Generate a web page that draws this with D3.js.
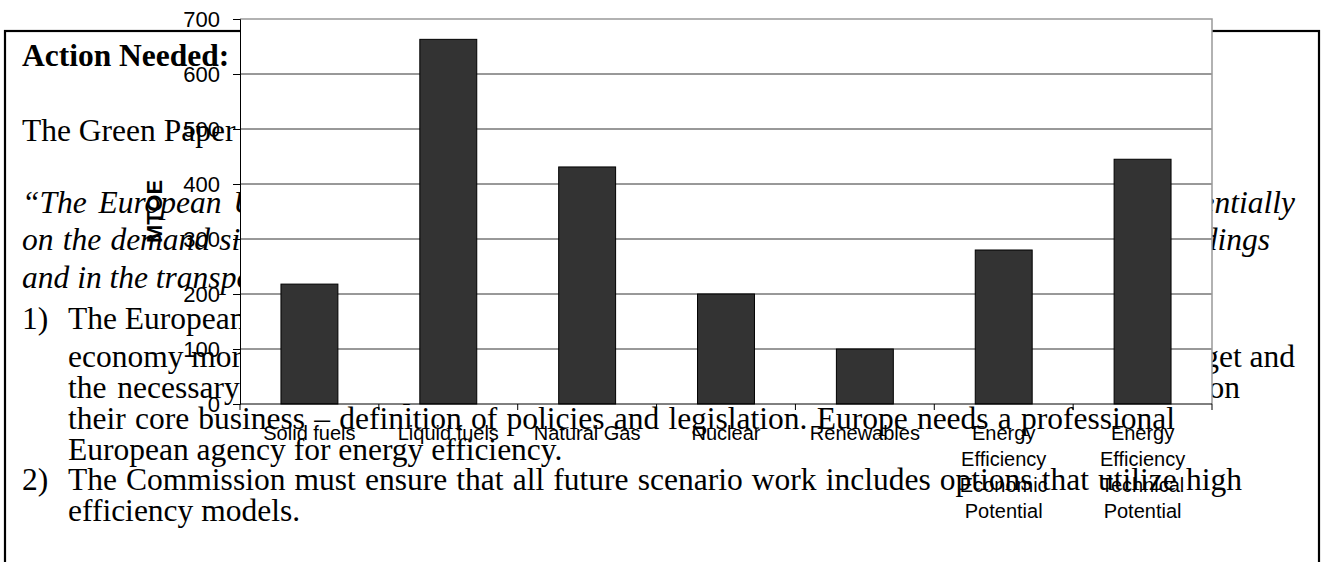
<!DOCTYPE html>
<html>
<head>
<meta charset="utf-8">
<script src="https://cdn.jsdelivr.net/npm/d3@7"></script>
<style>
  html, body { margin: 0; padding: 0; background: #fff; }
  svg { display: block; }
</style>
</head>
<body>
<svg id="page" width="1322" height="562"></svg>
<script>
// ---- chart data ----
const categories = [
  "Solid fuels",
  "Liquid fuels",
  "Natural Gas",
  "Nuclear",
  "Renewables",
  "Energy Efficiency Economic Potential",
  "Energy Efficiency Technical Potential"
];
const mtoe = [218, 663, 431, 200, 100, 280, 445];
const yTicks = [0, 100, 200, 300, 400, 500, 600, 700];
const yTitle = "MTOE";

// ---- document text behind the chart ----
const docLines = [
  { text: "Action Needed:", x: 22, y: 66, weight: "bold" },
  { text: "The Green Paper on Energy Efficiency or Doing More with Less states:", x: 22, y: 141 },
  { text: "\u201CThe European Union must therefore concentrate its efforts on a strategy that focuses essentially", x: 22, y: 213, italic: true, end: 1295 },
  { text: "on the demand side, i.e. on greater energy efficiency and energy saving, in particular in buildings", x: 22, y: 250, italic: true, end: 1270 },
  { text: "and in the transport sector.\u201D", x: 22, y: 288, italic: true },
  { text: "1)", x: 22, y: 329 },
  { text: "The European Union needs an independent and well resourced body to make the", x: 68, y: 329 },
  { text: "economy more energy efficient. This body must be given a clear mandate, a sufficient budget and", x: 68, y: 367, end: 1295 },
  { text: "the necessary staff and expertise, so that the Commission services can then concentrate on", x: 68, y: 398, end: 1240 },
  { text: "their core business \u2013 definition of policies and legislation. Europe needs a professional", x: 68, y: 429, end: 1175 },
  { text: "European agency for energy efficiency.", x: 68, y: 460 },
  { text: "2)", x: 22, y: 490 },
  { text: "The Commission must ensure that all future scenario work includes options that utilize high", x: 68, y: 490, end: 1242 },
  { text: "efficiency models.", x: 68, y: 521 }
];

const W = 1322, H = 562;
const svg = d3.select("#page");
svg.append("rect").attr("width", W).attr("height", H).attr("fill", "#fff");

const serif = "'Liberation Serif', 'Times New Roman', Times, serif";
const sans = "'Liberation Sans', Arial, Helvetica, sans-serif";

// page text; lines with a known right edge are set word by word to reach it
svg.append("g").selectAll("text")
  .data(docLines)
  .join("text")
  .attr("x", d => d.x)
  .attr("y", d => d.y)
  .attr("font-family", serif)
  .attr("font-size", 31.5)
  .attr("font-weight", d => d.weight || "normal")
  .attr("font-style", d => d.italic ? "italic" : "normal")
  .attr("fill", "#000")
  .text(d => d.text)
  .each(function(d) {
    if (!d.end) return;
    const t = d3.select(this);
    const words = d.text.split(" ");
    t.text(null);
    const spans = words.map(w => t.append("tspan").text(w));
    const widths = spans.map(s => s.node().getComputedTextLength());
    const gap = (d.end - d.x - d3.sum(widths)) / (words.length - 1);
    let cx = d.x;
    spans.forEach((s, i) => { s.attr("x", cx); cx += widths[i] + gap; });
  });

// text frame
svg.append("rect")
  .attr("x", 5).attr("y", 31)
  .attr("width", 1314).attr("height", 620)
  .attr("fill", "none")
  .attr("stroke", "#000")
  .attr("stroke-width", 2.2);

// ---- chart ----
const plot = { left: 240, right: 1212, top: 19, bottom: 404 };

const x = d3.scaleBand()
  .domain(categories)
  .range([plot.left, plot.right])
  .paddingInner(0.59)
  .paddingOuter(0.295);

const y = d3.scaleLinear()
  .domain([0, 700])
  .range([plot.bottom, plot.top]);

const chart = svg.append("g");

// plot area
chart.append("rect")
  .attr("x", plot.left).attr("y", plot.top)
  .attr("width", plot.right - plot.left)
  .attr("height", plot.bottom - plot.top)
  .attr("fill", "#fff");

// gridlines
chart.append("g").selectAll("line")
  .data(yTicks.filter(t => t > 0 && t < 700))
  .join("line")
  .attr("x1", plot.left).attr("x2", plot.right)
  .attr("y1", d => y(d)).attr("y2", d => y(d))
  .attr("stroke", "#333")
  .attr("stroke-width", 1);

// plot frame (top and right)
chart.append("path")
  .attr("d", `M${plot.left},${y(700)}H${plot.right}V${plot.bottom}`)
  .attr("fill", "none")
  .attr("stroke", "#999")
  .attr("stroke-width", 1.5);

// bars
chart.append("g").selectAll("rect")
  .data(categories)
  .join("rect")
  .attr("x", d => x(d))
  .attr("width", x.bandwidth())
  .attr("y", (d, i) => y(mtoe[i]))
  .attr("height", (d, i) => y(0) - y(mtoe[i]))
  .attr("fill", "#333")
  .attr("stroke", "#000")
  .attr("stroke-width", 1);

// y axis
const yAxis = chart.append("g")
  .attr("transform", `translate(${plot.left},0)`)
  .call(d3.axisLeft(y).tickValues(yTicks).tickSize(7).tickPadding(13));
yAxis.select(".domain").attr("stroke", "#000");
yAxis.selectAll(".tick line").attr("stroke", "#000");
yAxis.selectAll(".tick text")
  .attr("font-family", sans)
  .attr("font-size", 22)
  .attr("fill", "#000");

// x axis: baseline with tick marks between categories
chart.append("line")
  .attr("x1", plot.left).attr("x2", plot.right)
  .attr("y1", y(0)).attr("y2", y(0))
  .attr("stroke", "#000");
const step = x.step();
chart.append("g").selectAll("line")
  .data(d3.range(categories.length + 1))
  .join("line")
  .attr("x1", i => x.range()[0] + i * step)
  .attr("x2", i => x.range()[0] + i * step)
  .attr("y1", y(0)).attr("y2", y(0) + 6)
  .attr("stroke", "#000");

// category labels, wrapped to the band width
const labelSize = 20, lineGap = 26, maxLabel = step * 0.85;
const labels = chart.append("g").selectAll("text")
  .data(categories)
  .join("text")
  .attr("x", d => x(d) + x.bandwidth() / 2)
  .attr("y", y(0) + 36)
  .attr("text-anchor", "middle")
  .attr("font-family", sans)
  .attr("font-size", labelSize)
  .attr("fill", "#000");

labels.each(function(d) {
  const t = d3.select(this);
  const words = d.split(" ");
  const lines = [];
  let cur = [];
  const probe = t.append("tspan");
  words.forEach(w => {
    const trial = cur.concat(w).join(" ");
    probe.text(trial);
    if (cur.length && probe.node().getComputedTextLength() > maxLabel) {
      lines.push(cur.join(" "));
      cur = [w];
    } else {
      cur.push(w);
    }
  });
  lines.push(cur.join(" "));
  probe.remove();
  lines.forEach((ln, k) => {
    t.append("tspan")
      .attr("x", t.attr("x"))
      .attr("dy", k === 0 ? 0 : lineGap)
      .text(ln);
  });
});

// y axis title
chart.append("text")
  .attr("transform", `translate(162,${(plot.top + plot.bottom) / 2}) rotate(-90)`)
  .attr("text-anchor", "middle")
  .attr("font-family", sans)
  .attr("font-size", 22)
  .attr("font-weight", "bold")
  .attr("fill", "#000")
  .text(yTitle);
</script>
</body>
</html>
